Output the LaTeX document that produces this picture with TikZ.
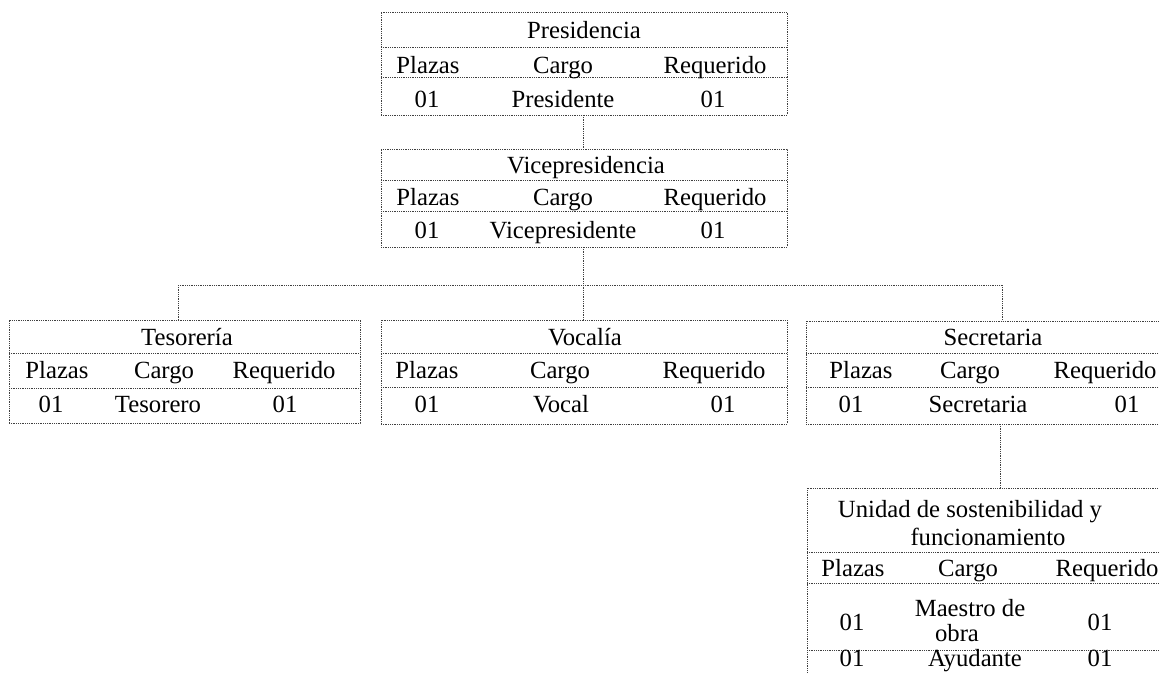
\documentclass[tikz,border=0pt]{standalone}
\usepackage{fontspec}
\setmainfont{Liberation Serif}
\begin{document}
\begin{tikzpicture}[x=1pt,y=-1pt,
  ln/.style={line width=0.7pt, black!75, dash pattern=on 0.9pt off 0.9pt},
  box/.style={ln, draw, rectangle, inner sep=0pt, outer sep=0pt, anchor=north west},
  txt/.style={font=\fontsize{24.7}{28}\selectfont, inner sep=0pt, anchor=base}]
\useasboundingbox (0,0) rectangle (1159,672);
\clip (0,0) rectangle (1159,672);

% ---------- Presidencia ----------
\node[box, minimum width=406pt, minimum height=103pt] (pres) at (381,12) {};
\draw[ln] (pres.west |- 0,47) -- (pres.east |- 0,47);
\draw[ln] (pres.west |- 0,77) -- (pres.east |- 0,77);
\node[txt] (presT) at (584,38) {Presidencia};
\node[txt] (presH1) at (428,73) {Plazas};
\node[txt] (presH2) at (563,73) {Cargo};
\node[txt] (presH3) at (715,73) {Requerido};
\node[txt] (presD1) at (427,107) {01};
\node[txt] (presD2) at (563,107) {Presidente};
\node[txt] (presD3) at (713,107) {01};

% ---------- Vicepresidencia ----------
\node[box, minimum width=406pt, minimum height=98pt] (vice) at (381,149) {};
\draw[ln] (vice.west |- 0,180) -- (vice.east |- 0,180);
\draw[ln] (vice.west |- 0,211) -- (vice.east |- 0,211);
\node[txt] (viceT) at (586,173) {Vicepresidencia};
\node[txt] (viceH1) at (428,205) {Plazas};
\node[txt] (viceH2) at (563,205) {Cargo};
\node[txt] (viceH3) at (715,205) {Requerido};
\node[txt] (viceD1) at (427,238) {01};
\node[txt] (viceD2) at (563,238) {Vicepresidente};
\node[txt] (viceD3) at (713,238) {01};

% ---------- Tesorería ----------
\node[box, minimum width=351pt, minimum height=103pt] (tes) at (9,320) {};
\draw[ln] (tes.west |- 0,353) -- (tes.east |- 0,353);
\draw[ln] (tes.west |- 0,388) -- (tes.east |- 0,388);
\node[txt] (tesT) at (187,345) {Tesorería};
\node[txt] (tesH1) at (57,378) {Plazas};
\node[txt] (tesH2) at (164,378) {Cargo};
\node[txt] (tesH3) at (284,378) {Requerido};
\node[txt] (tesD1) at (51,412) {01};
\node[txt] (tesD2) at (158,412) {Tesorero};
\node[txt] (tesD3) at (285,412) {01};

% ---------- Vocalía ----------
\node[box, minimum width=406pt, minimum height=104pt] (voc) at (381,320) {};
\draw[ln] (voc.west |- 0,353) -- (voc.east |- 0,353);
\draw[ln] (voc.west |- 0,387) -- (voc.east |- 0,387);
\node[txt] (vocT) at (585,345) {Vocalía};
\node[txt] (vocH1) at (427,378) {Plazas};
\node[txt] (vocH2) at (560,378) {Cargo};
\node[txt] (vocH3) at (714,378) {Requerido};
\node[txt] (vocD1) at (427,412) {01};
\node[txt] (vocD2) at (561,412) {Vocal};
\node[txt] (vocD3) at (723,412) {01};

% ---------- Secretaria ----------
\node[box, minimum width=357pt, minimum height=103pt] (sec) at (806,321) {};
\draw[ln] (sec.west |- 0,353) -- (sec.east |- 0,353);
\draw[ln] (sec.west |- 0,387) -- (sec.east |- 0,387);
\node[txt] (secT) at (993,345) {Secretaria};
\node[txt] (secH1) at (861,378) {Plazas};
\node[txt] (secH2) at (970,378) {Cargo};
\node[txt] (secH3) at (1105,378) {Requerido};
\node[txt] (secD1) at (851,412) {01};
\node[txt] (secD2) at (978,412) {Secretaria};
\node[txt] (secD3) at (1127,412) {01};

% ---------- Unidad de sostenibilidad y funcionamiento ----------
\node[box, minimum width=356pt, minimum height=195pt] (uni) at (807,488) {};
\draw[ln] (uni.west |- 0,552) -- (uni.east |- 0,552);
\draw[ln] (uni.west |- 0,583) -- (uni.east |- 0,583);
\draw[ln] (uni.west |- 0,650) -- (uni.east |- 0,650);
\node[txt] (uniT1) at (970,517) {Unidad de sostenibilidad y};
\node[txt] (uniT2) at (988,545) {funcionamiento};
\node[txt] (uniH1) at (853,576) {Plazas};
\node[txt] (uniH2) at (968,576) {Cargo};
\node[txt] (uniH3) at (1107,576) {Requerido};
\node[txt] (uniD1) at (852,630) {01};
\node[txt] (uniD2a) at (970,616) {Maestro de};
\node[txt] (uniD2b) at (957,641) {obra};
\node[txt] (uniD3) at (1100,630) {01};
\node[txt] (uniE1) at (852,666) {01};
\node[txt] (uniE2) at (975,666) {Ayudante};
\node[txt] (uniE3) at (1100,666) {01};

% ---------- connectors ----------
\coordinate (busL) at (178,285);
\coordinate (busM) at (583,285);
\coordinate (busR) at (1002,285);
\draw[ln] (pres.south -| busM) -- (vice.north -| busM);
\draw[ln] (vice.south -| busM) -- (voc.north -| busM);
\draw[ln] (busL) -- (busR);
\draw[ln] (busL) -- (tes.north -| busL);
\draw[ln] (busR) -- (sec.north -| busR);
\draw[ln] (sec.south -| 1000,0) -- (uni.north -| 1000,0);
\end{tikzpicture}
\end{document}
